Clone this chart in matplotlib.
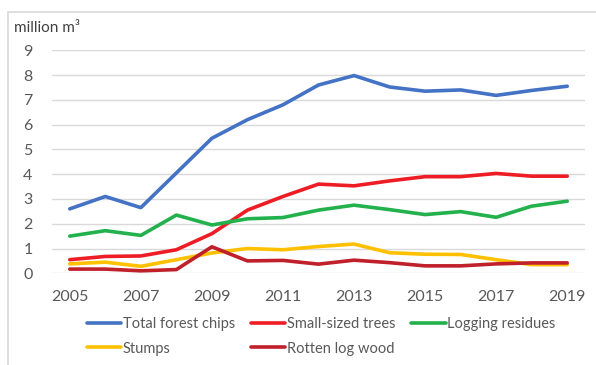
import matplotlib
matplotlib.use("Agg")
import matplotlib.pyplot as plt
from matplotlib.patches import Rectangle

years = list(range(2005, 2020))
total_forest_chips = [2.6, 3.1, 2.65, 4.05, 5.45, 6.2, 6.8, 7.6, 7.98, 7.52, 7.35, 7.4, 7.18, 7.38, 7.55]
small_sized_trees = [0.55, 0.68, 0.7, 0.95, 1.6, 2.55, 3.1, 3.6, 3.53, 3.73, 3.9, 3.9, 4.03, 3.92, 3.92]
logging_residues = [1.5, 1.72, 1.53, 2.35, 1.95, 2.2, 2.25, 2.55, 2.75, 2.57, 2.37, 2.49, 2.26, 2.71, 2.91]
stumps = [0.38, 0.45, 0.28, 0.55, 0.82, 1.0, 0.95, 1.08, 1.18, 0.83, 0.77, 0.76, 0.55, 0.35, 0.35]
rotten_log_wood = [0.17, 0.17, 0.1, 0.15, 1.07, 0.5, 0.52, 0.37, 0.53, 0.43, 0.3, 0.3, 0.38, 0.42, 0.42]

series = [
    ("Total forest chips", total_forest_chips, "#4472C4"),
    ("Small-sized trees", small_sized_trees, "#EE1C24"),
    ("Logging residues", logging_residues, "#22B14C"),
    ("Stumps", stumps, "#FFC000"),
    ("Rotten log wood", rotten_log_wood, "#C0202A"),
]
xtick_years = [2005, 2007, 2009, 2011, 2013, 2015, 2017, 2019]
yticks = list(range(0, 10))

plt.rcParams["font.family"] = ["Lato", "DejaVu Sans"]
text_color = "#595959"

W, H = 596, 365
fig = plt.figure(figsize=(W / 100, H / 100), dpi=100)
fig.patch.set_facecolor("white")

# chart-area frame
fig.patches.append(Rectangle((8 / W, -0.1), 1.2, 1 - 12 / H + 0.1,
                             transform=fig.transFigure, fill=False,
                             edgecolor="#D9D9D9", linewidth=1.2))

ax = fig.add_axes([52 / W, 1 - 273.3 / H, (585 - 52) / W, (273.3 - 50.3) / H])
ax.set_facecolor("none")

lines = {}
for name, vals, col in series:
    (ln,) = ax.plot(years, vals, color=col, linewidth=2.6, label=name,
                    solid_capstyle="round", solid_joinstyle="round", zorder=3)
    lines[name] = ln

ax.set_xlim(2004.5, 2019.5)
ax.set_ylim(0, 9)
ax.set_yticks(yticks)
ax.set_xticks(xtick_years)
ax.grid(axis="y", color="#D9D9D9", linewidth=1.0, zorder=0)
ax.set_axisbelow(True)
for s in ax.spines.values():
    s.set_visible(False)
ax.tick_params(axis="both", length=0, labelsize=11.5, colors=text_color)
ax.tick_params(axis="y", pad=14)
ax.tick_params(axis="x", pad=12)

fig.text(14 / W, 1 - 28 / H, "million m\u00b3", fontsize=11, color="#404040",
         va="center", ha="left")

order = ["Total forest chips", "Stumps", "Small-sized trees", "Rotten log wood", "Logging residues"]
leg = fig.legend([lines[n] for n in order], order, ncol=3,
                 loc="upper left", bbox_to_anchor=(87 / W, 1 - 317 / H),
                 frameon=False, fontsize=10.5, handlelength=2.35, handletextpad=0.1,
                 columnspacing=1.1, labelspacing=0.72, borderpad=0, borderaxespad=0)
for t in leg.get_texts():
    t.set_color(text_color)

fig.savefig("out.png", dpi=100, facecolor="white")
